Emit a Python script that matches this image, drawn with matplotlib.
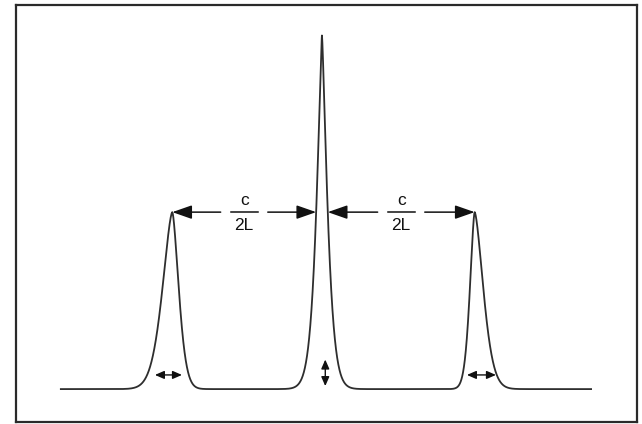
import numpy as np
import matplotlib
matplotlib.use("Agg")
import matplotlib.pyplot as plt
from matplotlib.lines import Line2D

# ---- data (frequency in units of c/2L, intensity relative to side modes) ----
peak_centers = [-0.991, 0.0, 1.011]
peak_heights = [1.0, 2.0, 1.0]
peak_widths_left = [0.0934, 0.051, 0.045]
peak_widths_right = [0.0613, 0.051, 0.0821]
peak_shape_exponents = [1.6, 1.3, 1.6]
baseline_range = [-1.735, 1.788]
spacing_label_num = "c"
spacing_label_den = "2L"
linewidth_arrow_level = 0.08
linewidth_arrow_x0 = [-1.106, 0.960]
linewidth_arrow_x1 = [-0.927, 1.152]
center_arrow_x = 0.022
center_arrow_range = [0.017, 0.167]

plt.rcParams['font.family'] = ['Liberation Sans', 'DejaVu Sans']

fig = plt.figure(figsize=(6.42, 4.24), dpi=100)
fig.patch.set_facecolor('white')
ax = fig.add_axes([0.0249, 0.0047, 0.9673, 0.9833])
ax.set_xlim(-2.026, 2.086)
ax.set_ylim(-0.186, 2.17)
ax.set_xticks([])
ax.set_yticks([])
for s in ax.spines.values():
    s.set_linewidth(1.6)
    s.set_color('#2a2a2a')


def one_peak(x, c, h, wl, wr, p):
    w = np.where(x < c, wl, wr)
    return h * np.exp(-(np.abs(x - c) / w) ** p)


def profile(x):
    y = np.zeros_like(x)
    for c, h, wl, wr, p in zip(peak_centers, peak_heights, peak_widths_left,
                               peak_widths_right, peak_shape_exponents):
        y += one_peak(x, c, h, wl, wr, p)
    return y


x = np.linspace(baseline_range[0], baseline_range[1], 6000)
ax.plot(x, profile(x), color='#2e2e2e', lw=1.3, solid_capstyle='butt')

# ---- spacing arrows at the side-mode height ----
lvl = peak_heights[0]
h_center = peak_heights[1]
p_center = peak_shape_exponents[1]
frac = np.log(h_center / lvl) ** (1 / p_center)
center_left = peak_centers[1] - peak_widths_left[1] * frac
center_right = peak_centers[1] + peak_widths_right[1] * frac

gap_half = 0.156
bar_half = 0.089
head = dict(arrowstyle='-|>,head_length=12,head_width=4.2', mutation_scale=1,
            color='#111111', lw=1.1, shrinkA=0, shrinkB=0)

pairs = [(peak_centers[0], center_left), (center_right, peak_centers[2])]
for a, b in pairs:
    mid = (a + b) / 2
    ax.annotate('', xy=(a, lvl), xytext=(mid - gap_half, lvl), arrowprops=head)
    ax.annotate('', xy=(b, lvl), xytext=(mid + gap_half, lvl), arrowprops=head)
    ax.add_line(Line2D([mid - bar_half, mid + bar_half], [lvl, lvl],
                       color='#111111', lw=1.1))
    ax.text(mid, lvl + 0.025, spacing_label_num, ha='center', va='bottom',
            fontsize=12.5, color='#111111')
    ax.text(mid, lvl - 0.035, spacing_label_den, ha='center', va='top',
            fontsize=12.5, color='#111111')

# ---- linewidth arrows ----
small = dict(arrowstyle='<|-|>,head_length=5.5,head_width=2.4', mutation_scale=1,
             color='#111111', lw=1.0, shrinkA=0, shrinkB=0)
for x0, x1 in zip(linewidth_arrow_x0, linewidth_arrow_x1):
    ax.annotate('', xy=(x0, linewidth_arrow_level),
                xytext=(x1, linewidth_arrow_level), arrowprops=small)

ax.annotate('', xy=(center_arrow_x, center_arrow_range[0]),
            xytext=(center_arrow_x, center_arrow_range[1]), arrowprops=small)

fig.savefig('out.png', dpi=100, facecolor='white')
